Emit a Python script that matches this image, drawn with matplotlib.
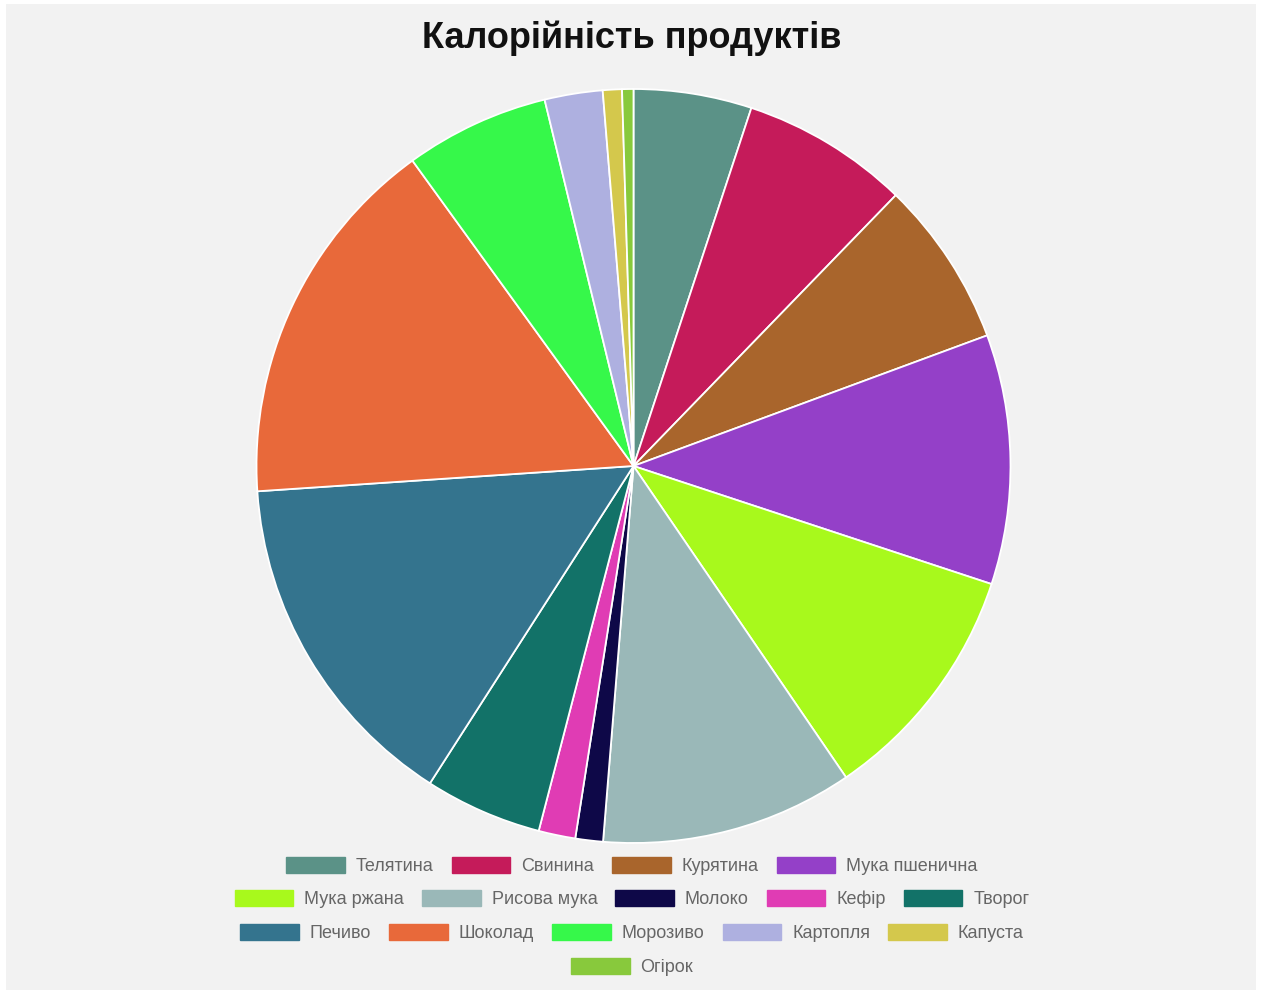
import matplotlib.pyplot as plt
from matplotlib.patches import Patch, Rectangle

plt.rcParams['font.family'] = ['Liberation Sans', 'DejaVu Sans']

# Calorie values (kcal per 100 g)
products = ['Телятина', 'Свинина', 'Курятина', 'Мука пшенична', 'Мука ржана',
            'Рисова мука', 'Молоко', 'Кефір', 'Творог', 'Печиво', 'Шоколад',
            'Морозиво', 'Картопля', 'Капуста', 'Огірок']
calories = [167, 237, 235, 353, 343, 357, 39, 52, 166, 490, 531, 204, 82, 27, 16]
colors = ['#5b9287', '#c51b5a', '#a9652c', '#9440c8', '#a8f91c',
          '#9ab8b8', '#0e0848', '#e03cb4', '#127268', '#34748e', '#e8693a',
          '#36f84a', '#aeb0e0', '#d4c84c', '#88c93c']
legend_rows = [4, 5, 5, 1]   # items per legend row

W, H = 1261, 994
fig = plt.figure(figsize=(W / 100, H / 100), dpi=100, facecolor='white')

# light gray canvas behind everything
fig.patches.append(Rectangle((6 / W, 4 / H), 1250 / W, 986 / H, transform=fig.transFigure,
                             facecolor='#f2f2f2', edgecolor='none', zorder=-10))

# pie axes, square in pixels
cx, cy, r = 633.5, 466, 377
ax = fig.add_axes([(cx - r) / W, (H - cy - r) / H, 2 * r / W, 2 * r / H])
ax.set_zorder(1)
ax.pie(calories, colors=colors, startangle=90, counterclock=False, radius=1,
       wedgeprops=dict(edgecolor='white', linewidth=1.3))
ax.set_xlim(-1, 1)
ax.set_ylim(-1, 1)
ax.set_aspect('equal')
ax.axis('off')

fig.text(632 / W, 1 - 38 / H, 'Калорійність продуктів', ha='center', va='center',
         fontsize=26, fontweight='bold', color='#111111')

# legend: centered rows like Chart.js
row_y = [866, 899, 933, 967]
start = 0
for n, y in zip(legend_rows, row_y):
    handles = [Patch(facecolor=colors[i], edgecolor=colors[i]) for i in range(start, start + n)]
    labels = products[start:start + n]
    fig.legend(handles, labels, loc='center', bbox_to_anchor=(632 / W, 1 - y / H),
               ncol=n, frameon=False, fontsize=13, handlelength=3.25, handleheight=1.0,
               handletextpad=0.6, columnspacing=1.0, borderpad=0, labelcolor='#666666')
    start += n

fig.savefig('out.png', dpi=100, facecolor=fig.get_facecolor())
